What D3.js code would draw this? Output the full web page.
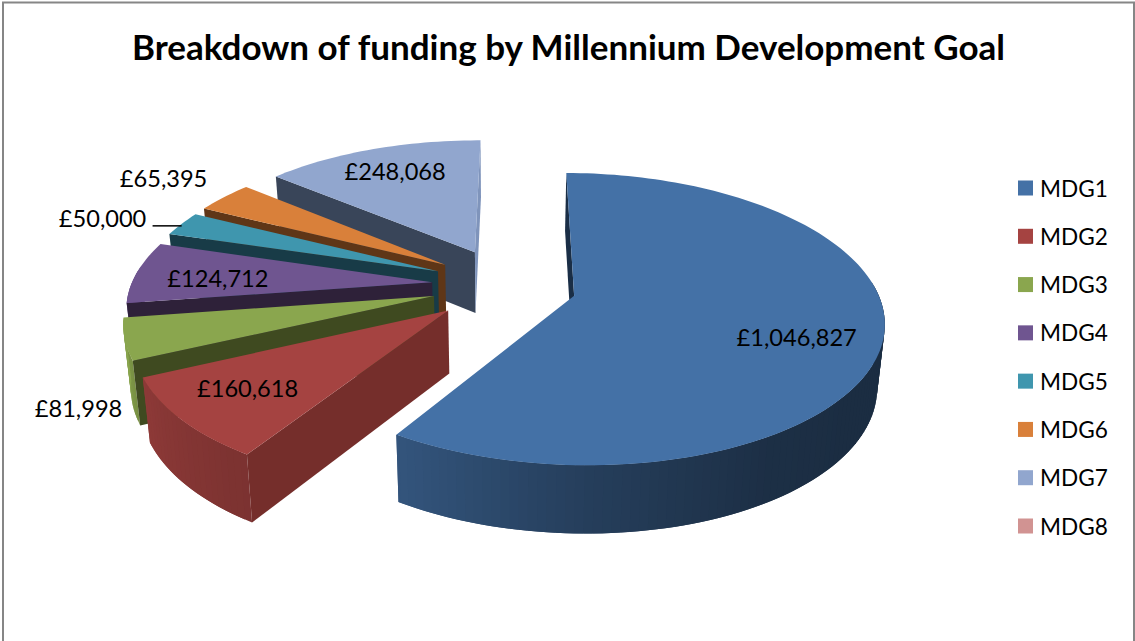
<!DOCTYPE html>
<html>
<head>
<meta charset="utf-8">
<script src="https://cdn.jsdelivr.net/npm/d3@7"></script>
<style>
  body { margin: 0; background: #fff; }
  svg { display: block; }
  text { font-family: Lato, "Open Sans", sans-serif; fill: #000; }
</style>
</head>
<body>
<svg id="chart" width="1135" height="641"></svg>
<script>
const title = "Breakdown of funding by Millennium Development Goal";
const categories = ["MDG1", "MDG2", "MDG3", "MDG4", "MDG5", "MDG6", "MDG7", "MDG8"];
const values = [1046827, 160618, 81998, 124712, 50000, 65395, 248068, 0];
const colors = ["#4471a6", "#a54341", "#8aa64e", "#6f5590", "#3f96ae", "#d9803a", "#91a6ce", "#d19392"];
const sideColors = ["#1a2e46", "#752e2b", "#3f4a20", "#2e2139", "#183b47", "#5f3617", "#394559", "#7a4a49"];
// label nudges from the default spot on each slice, hand placed like the original
const labelNudge = [[9, 12], [-20, 4], [-142, 82], [-7, 3], [-153, -20], [-123, -38], [-5, -6], [0, 0]];

const width = 1135, height = 641;
const cx = 504, cy = 285;    // pie centre
const rx = 301, ry = 139;    // radii on screen
const persp = 0.158;         // front of the pie is bigger than the back
const explodeX = 0.24, explodeY = 0.27;
const depth = 62;            // wall height
const lean = 0.98;           // bottom of the walls is a bit narrower
const toRad = Math.PI / 180;
const firstAngle = 0.4 * toRad;

const svg = d3.select("#chart");

// frame, no line at the bottom
svg.append("path")
  .attr("d", d3.line()([[3, height], [3, 2.5], [1134, 2.5], [1134, height]]))
  .attr("fill", "none")
  .attr("stroke", "#868686")
  .attr("stroke-width", 2);

svg.append("text")
  .attr("x", 568.5)
  .attr("y", 60)
  .attr("text-anchor", "middle")
  .style("font-size", "35px")
  .style("font-weight", 700)
  .text(title);

const pie = d3.pie()
  .value(d => d.value)
  .sort(null)
  .startAngle(firstAngle)
  .endAngle(firstAngle + 360 * toRad);

const slices = pie(categories.map((c, i) => ({ name: c, value: values[i], index: i })))
  .filter(d => d.value > 0);

// angle is clockwise from the back of the pie, r is in pie radii
function project(slice, angle, r, low) {
  const mid = (slice.startAngle + slice.endAngle) / 2;
  const X = explodeX * Math.sin(mid) + r * Math.sin(angle);
  const Y = -(explodeY * Math.cos(mid) + r * Math.cos(angle));
  const s = 1 / (1 - persp * Y);
  const k = low ? lean : 1;
  const drop = low ? depth * (1 + (s - 1) * 0.5) : 0;
  return [cx + rx * X * s * k, cy + ry * Y * s + drop];
}

// how much of the base colour the curved wall gets, by angle in degrees
const shade = d3.scaleLinear()
  .domain([130, 150, 180, 210, 243, 260])
  .range([0.4, 0.42, 0.55, 0.74, 0.85, 1])
  .clamp(true);

const line = d3.line();
const arcStep = 1.5 * toRad;

function arcAngles(d) {
  const a = d3.range(d.startAngle, d.endAngle, arcStep);
  a.push(d.endAngle);
  return a;
}

// the curved wall only shows on the part of the rim facing the viewer
const facesViewer = a => a / toRad > 85 && a / toRad < 275;

// a flat wall shows if its apex, rim and lower rim turn the right way on screen
function wallVisible(d, a, sign) {
  const p0 = project(d, a, 0, false), p1 = project(d, a, 1, false), p2 = project(d, a, 1, true);
  const cross = (p1[0] - p0[0]) * (p2[1] - p1[1]) - (p1[1] - p0[1]) * (p2[0] - p1[0]);
  return cross * sign > 0;
}

// back slices first, MDG1 goes on last
const drawOrder = slices.slice().sort((a, b) => b.data.index - a.data.index);

const groups = svg.selectAll("g.slice")
  .data(drawOrder)
  .enter()
  .append("g")
  .attr("class", "slice");

groups.each(function (d) {
  const g = d3.select(this);
  const base = colors[d.data.index];
  const side = sideColors[d.data.index];

  // curved wall in narrow bands, each one runs under the next so no seams show
  const angles = arcAngles(d);
  d3.pairs(angles).filter(([a, b]) => facesViewer((a + b) / 2)).forEach(([a, b]) => {
    const c = Math.min(b + arcStep, d.endAngle);
    g.append("path")
      .attr("d", line([
        project(d, a, 1, false), project(d, c, 1, false),
        project(d, c, 1, true), project(d, a, 1, true)
      ]) + "Z")
      .attr("fill", d3.interpolateRgb("#000", base)(shade(((a + b) / 2) / toRad)));
  });

  // the flat walls that can be seen, the right hand edge of MDG7 catches the light
  [[d.startAngle, -1], [d.endAngle, 1]].forEach(([a, sign]) => {
    if (!wallVisible(d, a, sign)) return;
    g.append("path")
      .attr("d", line([
        project(d, a, 0, false), project(d, a, 1, false),
        project(d, a, 1, true), project(d, a, 0, true)
      ]) + "Z")
      .attr("fill", sign > 0 ? "#7f94bb" : side);
  });

  // top face
  const top = [project(d, d.startAngle, 0, false)].concat(angles.map(a => project(d, a, 1, false)));
  g.append("path")
    .attr("d", line(top) + "Z")
    .attr("fill", base);
});

// value labels
const labelPoint = d => {
  const mid = (d.startAngle + d.endAngle) / 2;
  const p = project(d, mid, 0.7, false);
  const n = labelNudge[d.data.index];
  return [p[0] + n[0], p[1] + n[1]];
};

svg.selectAll("text.value")
  .data(slices)
  .enter()
  .append("text")
  .attr("class", "value")
  .attr("x", d => labelPoint(d)[0])
  .attr("y", d => labelPoint(d)[1])
  .attr("text-anchor", "middle")
  .attr("dominant-baseline", "central")
  .style("font-size", "23.6px")
  .text(d => "£" + d3.format(",")(d.value));

// leader line for the MDG5 label
const mdg5 = slices[4];
const leaderEnd = project(mdg5, (mdg5.startAngle + mdg5.endAngle) / 2, 1, false);
svg.append("path")
  .attr("d", line([[labelPoint(mdg5)[0] + 50, leaderEnd[1] + 2], [leaderEnd[0], leaderEnd[1] + 2]]))
  .attr("stroke", "#000")
  .attr("stroke-width", 1.5)
  .attr("fill", "none");

// legend
const legendY = d3.scalePoint().domain(categories).range([188, 526]);

svg.selectAll("rect.swatch")
  .data(categories)
  .enter()
  .append("rect")
  .attr("class", "swatch")
  .attr("x", 1018)
  .attr("y", d => legendY(d) - 7.5)
  .attr("width", 15)
  .attr("height", 15)
  .attr("fill", (d, i) => colors[i]);

svg.selectAll("text.legend")
  .data(categories)
  .enter()
  .append("text")
  .attr("class", "legend")
  .attr("x", 1040)
  .attr("y", d => legendY(d))
  .attr("dominant-baseline", "central")
  .style("font-size", "22.6px")
  .text(d => d);
</script>
</body>
</html>
